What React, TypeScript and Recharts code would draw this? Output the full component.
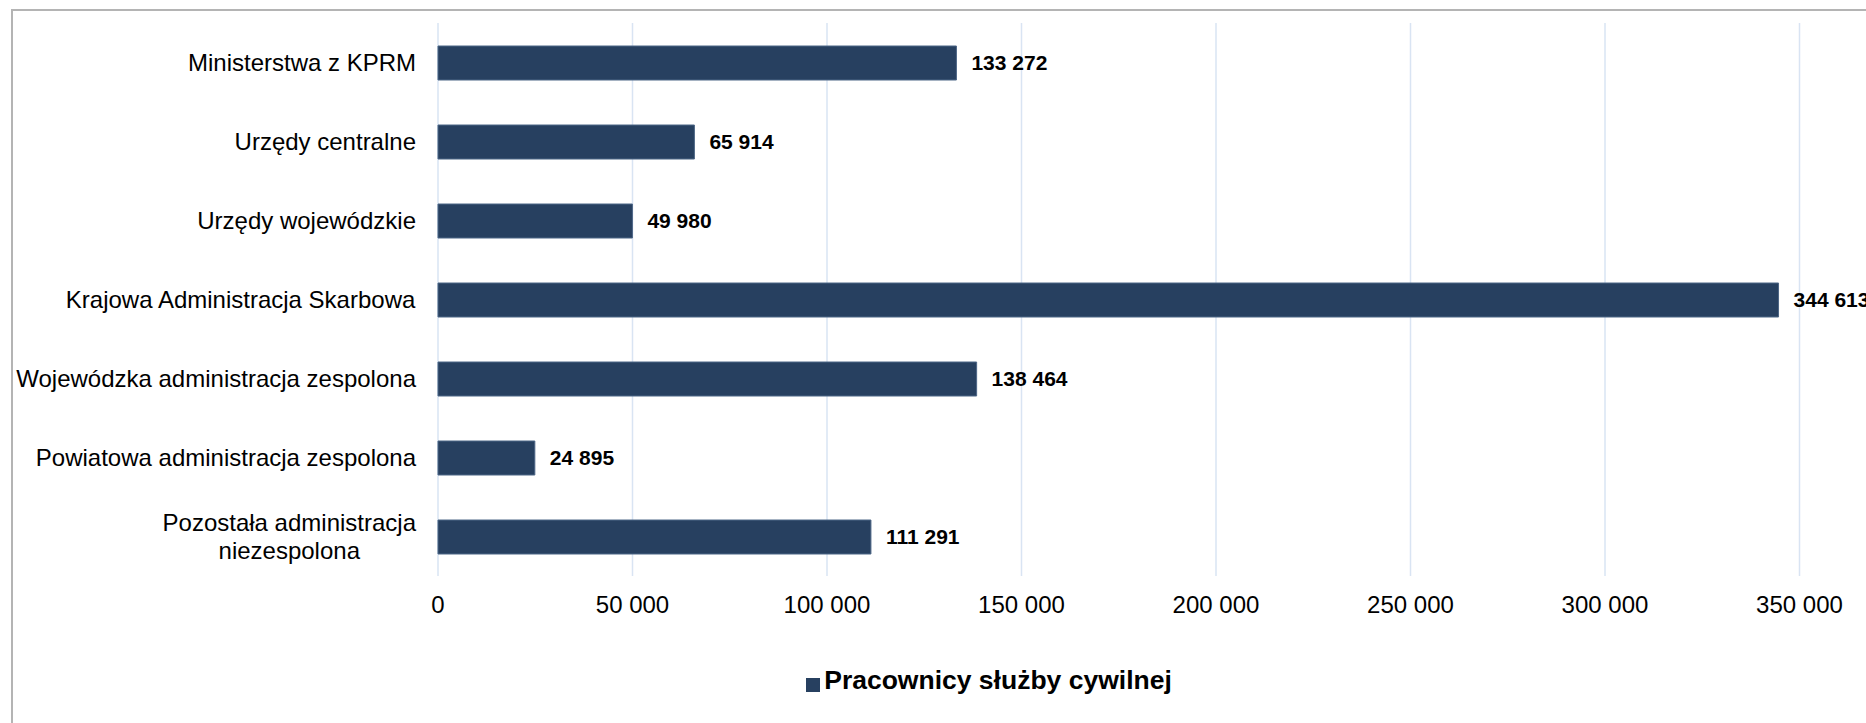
import React from "react"
import { Bar, BarChart, CartesianGrid, LabelList, Legend, XAxis, YAxis } from "recharts"

const categories = [
  "Ministerstwa z KPRM",
  "Urzędy centralne",
  "Urzędy wojewódzkie",
  "Krajowa Administracja Skarbowa",
  "Wojewódzka administracja zespolona",
  "Powiatowa administracja zespolona",
  "Pozostała administracja\nniezespolona",
]

const employees = [133272, 65914, 49980, 344613, 138464, 24895, 111291]

const xTicks = [0, 50000, 100000, 150000, 200000, 250000, 300000, 350000]
const xMax = 400000

const seriesName = "Pracownicy służby cywilnej"

const data = categories.map((name, i) => ({ name, value: employees[i] }))
// band edges for the tick marks between categories
const edgeTicks = categories.map((_, i) => i).concat(categories.length)

const FONT = "'Liberation Sans', Arial, sans-serif"
const GRID = "#d9e4f3"
const BAR = "#274060"

const fmt = (v: number) => String(v).replace(/\B(?=(\d{3})+(?!\d))/g, " ")

let ctx: CanvasRenderingContext2D | null = null
function textWidth(s: string, font: string) {
  if (!ctx) ctx = document.createElement("canvas").getContext("2d")
  if (!ctx) return s.length * 12
  ctx.font = font
  return ctx.measureText(s).width
}

function CategoryTick(props: any) {
  const { x, y, payload } = props
  const lines = String(payload.value).split("\n")
  const lh = 27.5
  const widest = Math.max(...lines.map((l) => textWidth(l, `24px ${FONT}`)))
  const cx = x - widest / 2
  const first = -((lines.length - 1) / 2) * lh + 8.5
  return (
    <text x={cx} y={y} textAnchor="middle" fontSize={24} fontFamily={FONT} fill="#000">
      {lines.map((l, i) => (
        <tspan key={i} x={cx} dy={i === 0 ? first : lh}>
          {l}
        </tspan>
      ))}
    </text>
  )
}

export default function App() {
  return (
    <div
      style={{
        position: "absolute",
        left: 0,
        top: 0,
        width: 1866,
        height: 723,
        overflow: "hidden",
        background: "#fff",
        fontFamily: FONT,
      }}
    >
      <div
        style={{
          position: "absolute",
          left: 11,
          top: 9,
          width: 1950,
          height: 800,
          borderLeft: "2px solid #b4b4b4",
          borderTop: "2px solid #b4b4b4",
        }}
      />
      <div style={{ position: "absolute", left: 0, top: 0 }}>
        <BarChart
          width={2000}
          height={723}
          data={data}
          layout="vertical"
          margin={{ top: 23, right: 6, left: 0, bottom: 107 }}
        >
          <CartesianGrid horizontal={false} stroke={GRID} strokeWidth={1.5} />
          <XAxis
            type="number"
            domain={[0, xMax]}
            ticks={xTicks}
            interval={0}
            height={40}
            axisLine={false}
            tickLine={false}
            tickSize={0}
            tickMargin={20}
            tickFormatter={fmt}
            tick={{ fontSize: 24, fill: "#000", fontFamily: FONT }}
          />
          <YAxis
            yAxisId="edge"
            type="number"
            domain={[0, categories.length]}
            ticks={edgeTicks}
            interval={0}
            width={0}
            tickSize={7}
            tickFormatter={() => ""}
            axisLine={{ stroke: GRID, strokeWidth: 2 }}
            tickLine={{ stroke: GRID, strokeWidth: 2 }}
          />
          <YAxis
            type="category"
            dataKey="name"
            width={438}
            interval={0}
            axisLine={false}
            tickLine={false}
            tickSize={0}
            tickMargin={22}
            tick={<CategoryTick />}
          />
          <Legend
            verticalAlign="middle"
            align="center"
            layout="horizontal"
            iconType="square"
            iconSize={14}
            wrapperStyle={{ top: 665, left: 0, width: 1988, bottom: "auto" }}
            formatter={(v) => (
              <span style={{ color: "#000", fontWeight: 700, fontSize: 26.5, fontFamily: FONT }}>{v}</span>
            )}
          />
          <Bar
            dataKey="value"
            name={seriesName}
            fill={BAR}
            stroke="#4d6686"
            strokeWidth={1}
            barSize={34}
            isAnimationActive={false}
          >
            <LabelList
              dataKey="value"
              position="right"
              offset={15}
              formatter={(v: any) => fmt(Number(v))}
              style={{ fontSize: 21, fontWeight: 700, fill: "#000", fontFamily: FONT }}
            />
          </Bar>
        </BarChart>
      </div>
    </div>
  )
}
